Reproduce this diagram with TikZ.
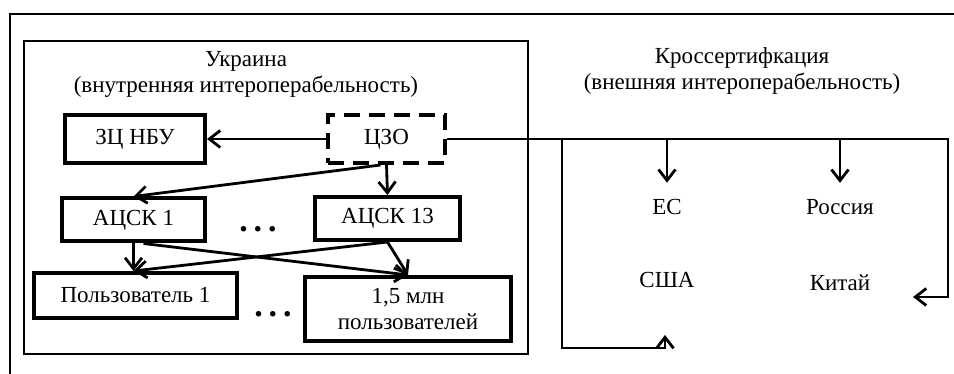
\documentclass[tikz,border=0pt]{standalone}
\usepackage{fontspec}
\setmainfont{Liberation Serif}
\usetikzlibrary{arrows.meta}
\def\myfont{\fontsize{23}{26}\selectfont}
\def\dotsfont{\fontsize{34}{34}\bfseries}
\tikzset{
  box/.style={draw,line width=4pt,inner sep=2pt,align=center},
  arr/.style={line width=2.8pt,-{Straight Barb[length=11pt,width=17pt,line width=2.8pt]}},
}

\begin{document}
\begin{tikzpicture}[x=1pt,y=-1pt,font=\myfont]
			\useasboundingbox (0,0) rectangle (954,374);
			\draw[line width=1.2pt] (954,14) -- (10,14) -- (10,374);
			\draw[line width=1.2pt] (24,41) rectangle (528,354);
			\node[align=center] (ua) at (246,74) {Украина\\(внутренняя интероперабельность)};
			\node[align=center] (cross) at (742,71) {Кроссертифкация\\(внешняя интероперабельность)};
			% inner part
			\node[box,minimum width=140pt,minimum height=48pt] (zcnbu) at (135,139) {ЗЦ НБУ};
			\node[box,dash pattern=on 16pt off 9pt,minimum width=117pt,minimum height=48pt] (czo) at (386.5,139) {ЦЗО};
			\node[box,minimum width=143pt,minimum height=43pt] (acsk1) at (133.5,220) {АЦСК 1};
			\node[box,minimum width=145pt,minimum height=43pt] (acsk13) at (387.5,218.5) {АЦСК 13};
			\node[box,minimum width=203pt,minimum height=45pt] (user1) at (135.5,295.5) {Пользователь 1};
			\node[box,minimum width=206pt,minimum height=64pt] (users) at (408,309) {1,5 млн\\пользователей};
			\node[font=\dotsfont] (dots1) at (258,229) {.\hspace{6pt}.\hspace{6pt}.};
			\node[font=\dotsfont] (dots2) at (273,314) {.\hspace{6pt}.\hspace{6pt}.};
			\draw[arr] (czo) -- (zcnbu);
			\draw[arr] ([xshift=-6pt]czo.south) -- (acsk1.north);
			\draw[arr] (czo.south) -- (acsk13.north);
			\draw[arr] (acsk1.south) -- (acsk1.south |- user1.north);
			\draw[arr] ([xshift=10pt]acsk1.south) -- (users.north);
			\draw[arr] (acsk13.south) -- (acsk1.south |- user1.north);
			\draw[arr] (acsk13.south) -- (users.north);
			% outer part
			\node (es) at (667,207) {ЕС};
			\node (ru) at (840,207) {Россия};
			\node (usa) at (667,280) {США};
			\node (cn) at (840,283) {Китай};
			\coordinate (cnin) at (913,297);
			\coordinate (usain) at (665,335);
			\draw[arr] (czo.east) -- (948,139) |- (cnin);
			\draw[arr] (562,139) |- (usain |- 0,348) -- (usain);
			\draw[arr] (es |- czo.east) -- ([yshift=13pt]es.north);
			\draw[arr] (ru |- czo.east) -- ([yshift=13pt]ru.north);
		\end{tikzpicture}
\end{document}
